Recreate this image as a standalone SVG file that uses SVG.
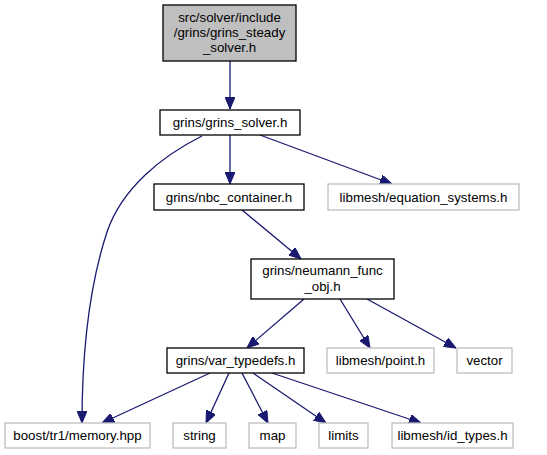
<svg xmlns="http://www.w3.org/2000/svg" width="547" height="455" viewBox="0 0 547 455">
<style>
text{font-family:"Liberation Sans",Arial,sans-serif;font-size:13.3px;fill:#000;text-anchor:middle}
.n rect{fill:#fff;stroke:#000;stroke-width:1.3}
.g rect{fill:#fff;stroke:#bfbfbf;stroke-width:1.3}
.root rect{fill:#bfbfbf;stroke:#000;stroke-width:1.3}
.e{fill:none;stroke:#191970;stroke-width:1.3}
</style>
<defs>
<marker id="a" markerWidth="12" markerHeight="10" refX="12" refY="5" orient="auto" markerUnits="userSpaceOnUse">
<path d="M0,0 L12,5 L0,10 Z" fill="#191970" stroke="#191970" stroke-width="1"/>
</marker>
</defs>
<rect width="547" height="455" fill="#fff"/>
<g id="edges">
<path class="e" marker-end="url(#a)" d="M230,61 L230,109"/>
<path class="e" marker-end="url(#a)" d="M230,135 L230,184"/>
<path class="e" marker-end="url(#a)" d="M260,135 L392,184"/>
<path class="e" marker-end="url(#a)" d="M202,136 C162,156 122,188 107,232 C88,290 82,360 82,423"/>
<path class="e" marker-end="url(#a)" d="M242,210 L301,259"/>
<path class="e" marker-end="url(#a)" d="M304,299 L247,348"/>
<path class="e" marker-end="url(#a)" d="M340,299 L370,348"/>
<path class="e" marker-end="url(#a)" d="M367,299 L456,348"/>
<path class="e" marker-end="url(#a)" d="M210,373 L102,423"/>
<path class="e" marker-end="url(#a)" d="M229,373 L206,423"/>
<path class="e" marker-end="url(#a)" d="M242,373 L268,423"/>
<path class="e" marker-end="url(#a)" d="M253,373 L326,423"/>
<path class="e" marker-end="url(#a)" d="M272,373 L421,423"/>
</g>
<g id="node1" class="root"><rect x="163" y="5" width="133" height="56"/>
<text x="229.5" y="22">src/solver/include</text><text x="229.5" y="37">/grins/grins_steady</text><text x="229.5" y="52">_solver.h</text></g>
<g id="node2" class="n"><rect x="160" y="110" width="140" height="25"/><text x="230" y="127">grins/grins_solver.h</text></g>
<g id="node3" class="n"><rect x="154" y="184" width="150" height="26"/><text x="229" y="202">grins/nbc_container.h</text></g>
<g id="node4" class="g"><rect x="328" y="184" width="191" height="26"/><text x="423.5" y="202">libmesh/equation_systems.h</text></g>
<g id="node5" class="n"><rect x="251" y="259" width="143" height="40"/><text x="322.5" y="275">grins/neumann_func</text><text x="322.5" y="291">_obj.h</text></g>
<g id="node6" class="n"><rect x="167" y="348" width="137" height="25"/><text x="235.5" y="365">grins/var_typedefs.h</text></g>
<g id="node7" class="g"><rect x="327" y="348" width="107" height="25"/><text x="380.5" y="365">libmesh/point.h</text></g>
<g id="node8" class="g"><rect x="457" y="348" width="55" height="25"/><text x="484.5" y="365">vector</text></g>
<g id="node9" class="g"><rect x="5" y="423" width="145" height="25"/><text x="77.5" y="440">boost/tr1/memory.hpp</text></g>
<g id="node10" class="g"><rect x="173" y="423" width="53" height="25"/><text x="199.5" y="440">string</text></g>
<g id="node11" class="g"><rect x="249" y="423" width="47" height="25"/><text x="272.5" y="440">map</text></g>
<g id="node12" class="g"><rect x="319" y="423" width="49" height="25"/><text x="343.5" y="440">limits</text></g>
<g id="node13" class="g"><rect x="392" y="423" width="121" height="25"/><text x="452.5" y="440">libmesh/id_types.h</text></g>
</svg>
